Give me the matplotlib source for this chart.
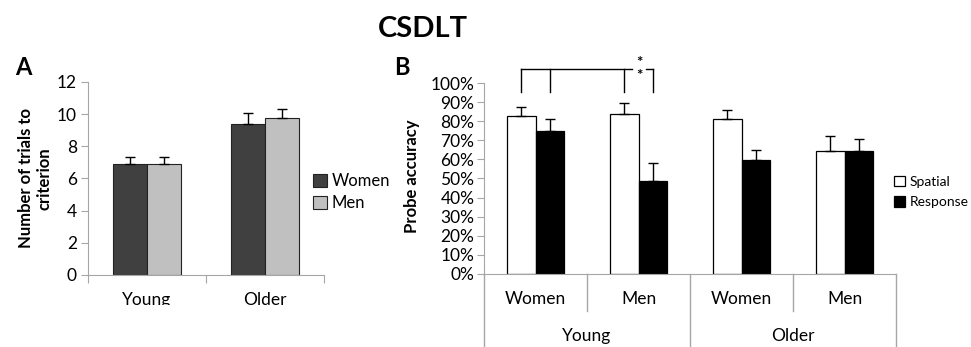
import numpy as np
import matplotlib
matplotlib.use("Agg")
import matplotlib.pyplot as plt
from matplotlib.patches import Rectangle
from matplotlib.ticker import FuncFormatter

plt.rcParams['font.family'] = ['Lato', 'DejaVu Sans']

# panel A data
age_groups = ['Young', 'Older']
trials_women = [6.9, 9.4]
trials_women_err = [0.45, 0.65]
trials_men = [6.9, 9.75]
trials_men_err = [0.45, 0.55]

# panel B data
sex_labels = ['Women', 'Men', 'Women', 'Men']
spatial = [82.9, 83.9, 81.0, 64.2]
spatial_err = [4.7, 5.5, 4.7, 8.1]
response = [75.0, 48.5, 59.5, 64.2]
response_err = [6.0, 9.8, 5.2, 6.5]

GRAY = '#a6a6a6'

fig = plt.figure(figsize=(9.71, 3.47), dpi=100)
fig.text(0.435, 0.915, 'CSDLT', ha='center', va='center', fontsize=21, fontweight='bold')

# ---------------- A ----------------
axA = fig.add_axes([0.0906, 0.2075, 0.2431, 0.5562])
x = np.arange(len(age_groups))
w = 0.285
axA.bar(x - w / 2, trials_women, w, color='#404040', edgecolor='#222222', linewidth=0.8, label='Women')
axA.bar(x + w / 2, trials_men, w, color='#c0c0c0', edgecolor='#222222', linewidth=0.8, label='Men')
axA.errorbar(x - w / 2, trials_women, yerr=[np.zeros(2), trials_women_err], fmt='none',
             ecolor='black', elinewidth=1, capsize=3.5, capthick=1)
axA.errorbar(x + w / 2, trials_men, yerr=[np.zeros(2), trials_men_err], fmt='none',
             ecolor='black', elinewidth=1, capsize=3.5, capthick=1)
axA.set_xlim(-0.5, 1.5)
axA.set_ylim(0, 12)
axA.set_yticks(range(0, 13, 2))
axA.set_xticks([-0.5, 0.5, 1.5])
axA.set_xticklabels([])
axA.tick_params(axis='x', direction='out', length=6, color=GRAY)
axA.tick_params(axis='y', direction='out', length=5, color=GRAY, labelsize=12.5, pad=3)
for s in ['top', 'right']:
    axA.spines[s].set_visible(False)
for s in ['left', 'bottom']:
    axA.spines[s].set_color(GRAY)
for i, g in enumerate(age_groups):
    axA.text(i, -0.13, g, transform=axA.get_xaxis_transform(), ha='center', va='center', fontsize=12.5)
axA.set_ylabel('Number of trials to\ncriterion', fontsize=12, fontweight='bold')
axA.yaxis.set_label_coords(-0.15, 0.5)
axA.legend(loc='center left', bbox_to_anchor=(0.955, 0.43), frameon=False, fontsize=12,
           handlelength=0.8, handleheight=0.8, handletextpad=0.3, labelspacing=0.35,
           borderaxespad=0, borderpad=0)
fig.text(0.024, 0.805, 'A', fontsize=17, fontweight='bold', ha='center', va='center')

# ---------------- B ----------------
axB = fig.add_axes([0.4985, 0.2104, 0.4243, 0.5504])
xb = np.arange(len(sex_labels))
wb = 0.28
axB.bar(xb - wb / 2, spatial, wb, color='white', edgecolor='black', linewidth=0.9, label='Spatial')
axB.bar(xb + wb / 2, response, wb, color='black', edgecolor='black', linewidth=0.9, label='Response')
axB.errorbar(xb - wb / 2, spatial, yerr=[np.zeros(4), spatial_err], fmt='none',
             ecolor='black', elinewidth=1, capsize=3.5, capthick=1)
axB.errorbar(xb + wb / 2, response, yerr=[np.zeros(4), response_err], fmt='none',
             ecolor='black', elinewidth=1, capsize=3.5, capthick=1)
axB.set_xlim(-0.5, 3.5)
axB.set_ylim(0, 100)
axB.set_yticks(range(0, 101, 10))
axB.yaxis.set_major_formatter(FuncFormatter(lambda v, p: '%d%%' % v))
axB.set_xticks([])
axB.tick_params(axis='y', direction='out', length=5, color=GRAY, labelsize=12.5, pad=2)
for s in ['top', 'right']:
    axB.spines[s].set_visible(False)
for s in ['left', 'bottom']:
    axB.spines[s].set_color(GRAY)
trans = axB.get_xaxis_transform()
# multi-level category axis
for xd, ybot in zip([-0.5, 0.5, 1.5, 2.5, 3.5], [-0.4, -0.194, -0.4, -0.194, -0.4]):
    axB.plot([xd, xd], [0, ybot], color=GRAY, lw=1, transform=trans, clip_on=False)
for i, lab in enumerate(sex_labels):
    axB.text(i, -0.13, lab, transform=trans, ha='center', va='center', fontsize=12.5)
for i, g in enumerate(age_groups):
    axB.text(2 * i + 0.5, -0.325, g, transform=trans, ha='center', va='center', fontsize=12.5)
axB.set_ylabel('Probe accuracy', fontsize=12, fontweight='bold')
axB.yaxis.set_label_coords(-0.155, 0.51)
axB.legend(loc='center left', bbox_to_anchor=(0.995, 0.43), frameon=False, fontsize=10,
           handlelength=0.8, handleheight=0.8, handletextpad=0.3, labelspacing=0.6,
           borderaxespad=0, borderpad=0)

# significance bracket
br_y, br_low = 107.3, 95.3
for xd in [-0.14, 0.14, 0.86, 1.14]:
    axB.plot([xd, xd], [br_low, br_y], color='black', lw=1, clip_on=False)
axB.plot([-0.14, 0.94], [br_y, br_y], color='black', lw=1, clip_on=False)
axB.plot([1.07, 1.14], [br_y, br_y], color='black', lw=1, clip_on=False)
axB.text(1.005, 110.5, '*', ha='center', va='center', fontsize=11, fontweight='bold')
axB.text(1.005, 103.5, '*', ha='center', va='center', fontsize=11, fontweight='bold')
fig.text(0.414, 0.805, 'B', fontsize=17, fontweight='bold', ha='center', va='center')

# panel A is cut off at the bottom in the reference
fig.patches.append(Rectangle((0, 0), 0.40, 1 - 305 / 347, transform=fig.transFigure,
                             facecolor='white', edgecolor='none', zorder=10))

fig.savefig('out.png', dpi=100)
